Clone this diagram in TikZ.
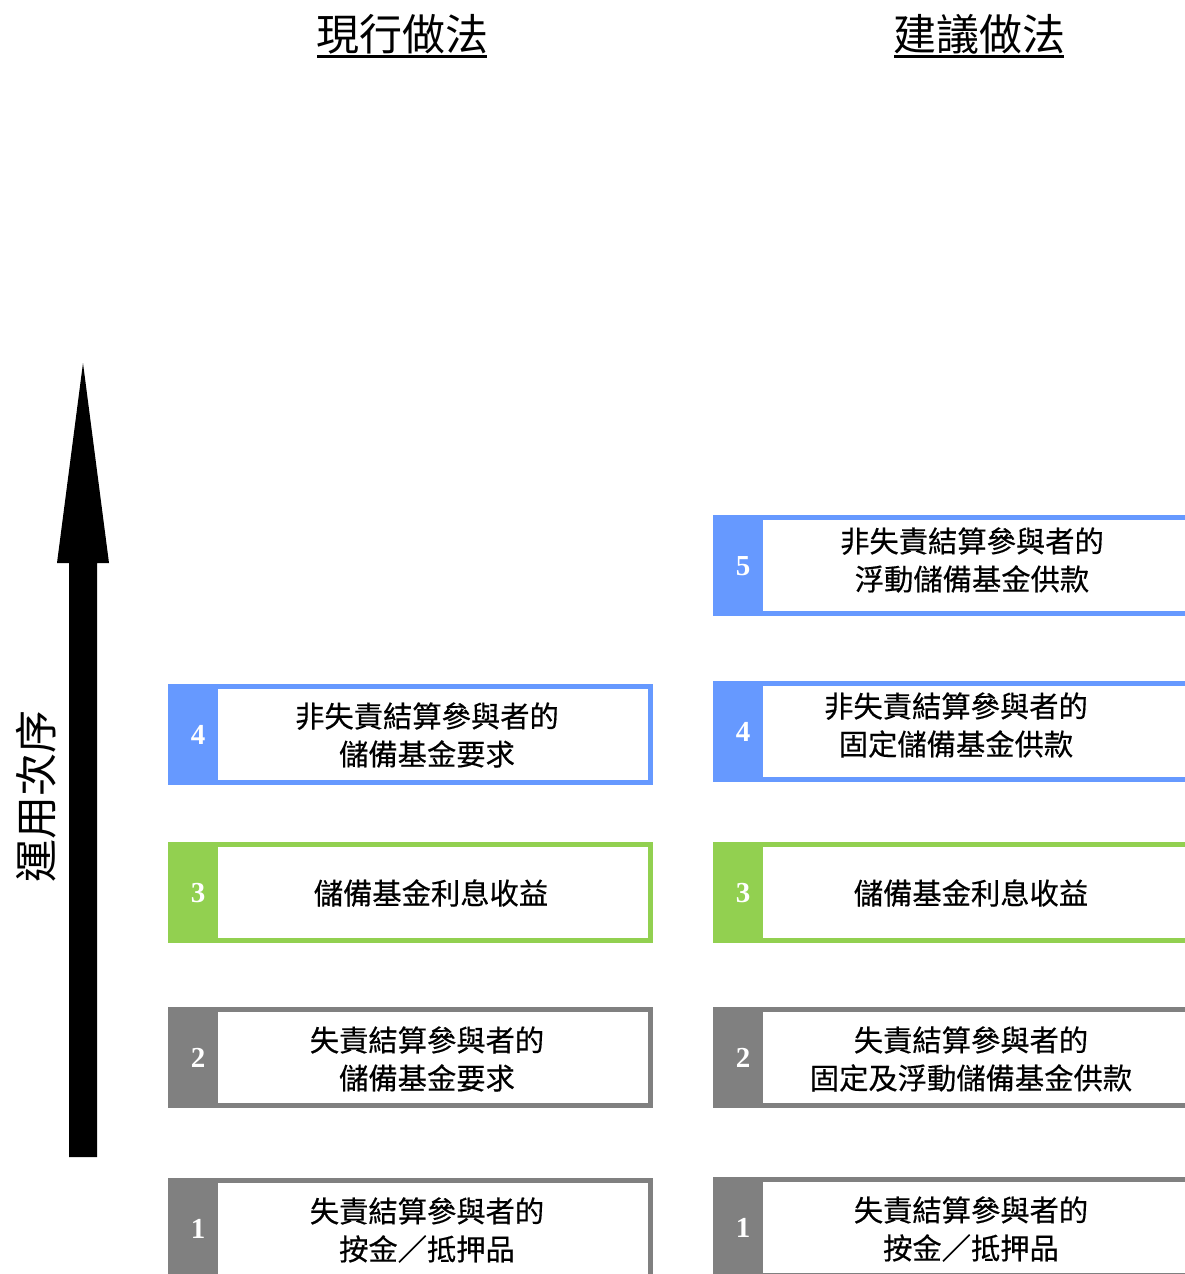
\documentclass[tikz,border=0pt]{standalone}
\usepackage{fontspec}
\newfontfamily\cjkfont{Noto Sans CJK TC}
\newfontfamily\cjkboxfont[FakeBold=0.4]{Noto Sans CJK TC}
\newfontfamily\numfont{Liberation Serif}
\definecolor{cblue}{HTML}{6699FF}
\definecolor{cgreen}{HTML}{92D050}
\definecolor{cgray}{HTML}{808080}
\tikzset{
  frame/.style={draw=#1, line width=5pt, fill=white, inner sep=0pt, minimum height=96pt},
  numbox/.style={fill=#1, text=white, inner sep=0pt, minimum width=50pt, minimum height=101pt, anchor=north west, font=\numfont\bfseries\fontsize{29}{30}\selectfont},
  lbl/.style={font=\cjkboxfont\fontsize{29.3}{38}\selectfont, align=center, inner sep=0pt, text=black},
  hdr/.style={font=\cjkfont\fontsize{43}{46}\selectfont, inner sep=0pt},
  uline/.style={line width=2.5pt}
}
\begin{document}
\begin{tikzpicture}[x=1pt,y=-1pt]
\useasboundingbox (0,0) rectangle (1185,1274);
\clip (0,0) rectangle (1185,1274);
% headers
\node[hdr] (h1) at (402,34) {現行做法};
\node[hdr] (h2) at (979,34) {建議做法};
\draw[uline] (317,56.5) -- (487,56.5);
\draw[uline] (894,56.5) -- (1064,56.5);
% vertical label
\node[hdr, rotate=90] (ord) at (36,796) {運用次序};
% arrow
\coordinate (abot) at (83,1157);
\coordinate (atop) at (83,363);
\fill (abot) ++(-14,0) -- ++(0,-594) -- ++(-12,0) -- (atop) -- ([shift={(26,200)}]atop) -- ++(-12,0) -- ([shift={(14,0)}]abot) -- cycle;
% left column
\node[frame=cblue, minimum width=480pt] (L4) at (410.5,734.5) {};
\node[numbox=cblue] (L4n) at (168,684) {\hspace*{10pt}4};
\node[lbl] (L4t) at (427,735) {非失責結算參與者的\\儲備基金要求};
\node[frame=cgreen, minimum width=480pt] (L3) at (410.5,892.5) {};
\node[numbox=cgreen] (L3n) at (168,842) {\hspace*{10pt}3};
\node[lbl] (L3t) at (431,893) {儲備基金利息收益};
\node[frame=cgray, minimum width=480pt] (L2) at (410.5,1057.5) {};
\node[numbox=cgray] (L2n) at (168,1007) {\hspace*{10pt}2};
\node[lbl] (L2t) at (427,1059) {失責結算參與者的\\儲備基金要求};
\node[frame=cgray, minimum width=480pt] (L1) at (410.5,1228.5) {};
\node[numbox=cgray] (L1n) at (168,1178) {\hspace*{10pt}1};
\node[lbl] (L1t) at (427,1230) {失責結算參與者的\\按金／抵押品};
% right column
\node[frame=cblue, minimum width=500pt] (R5) at (965.5,565.5) {};
\node[numbox=cblue] (R5n) at (713,515) {\hspace*{10pt}5};
\node[lbl] (R5t) at (972,560) {非失責結算參與者的\\浮動儲備基金供款};
\node[frame=cblue, minimum width=500pt] (R4) at (965.5,731.5) {};
\node[numbox=cblue] (R4n) at (713,681) {\hspace*{10pt}4};
\node[lbl] (R4t) at (956,725) {非失責結算參與者的\\固定儲備基金供款};
\node[frame=cgreen, minimum width=500pt] (R3) at (965.5,892.5) {};
\node[numbox=cgreen] (R3n) at (713,842) {\hspace*{10pt}3};
\node[lbl] (R3t) at (971,893) {儲備基金利息收益};
\node[frame=cgray, minimum width=500pt] (R2) at (965.5,1057.5) {};
\node[numbox=cgray] (R2n) at (713,1007) {\hspace*{10pt}2};
\node[lbl] (R2t) at (971,1059) {失責結算參與者的\\固定及浮動儲備基金供款};
\node[frame=cgray, minimum width=500pt] (R1) at (965.5,1227.5) {};
\node[numbox=cgray] (R1n) at (713,1177) {\hspace*{10pt}1};
\node[lbl] (R1t) at (971,1229) {失責結算參與者的\\按金／抵押品};
\end{tikzpicture}
\end{document}
